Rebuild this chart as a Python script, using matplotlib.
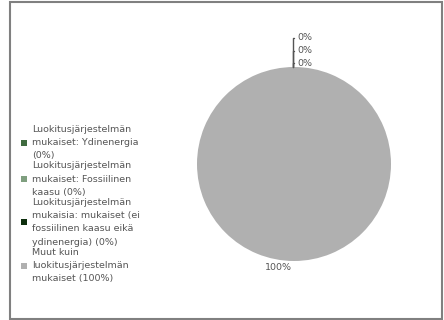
import numpy as np
import matplotlib.pyplot as plt
from matplotlib.patches import Rectangle, Patch

labels = [
    "Luokitusjärjestelmän\nmukaiset: Ydinenergia",
    "Luokitusjärjestelmän\nmukaiset: Fossiilinen\nkaasu",
    "Luokitusjärjestelmän\nmukaisia: mukaiset (ei\nfossiilinen kaasu eikä\nydinenergia)",
    "Muut kuin\nluokitusjärjestelmän\nmukaiset",
]
seps = ["\n", " ", " ", " "]
values = [0, 0, 0, 100]
colors = ["#3f6b3f", "#7f9f7f", "#0d2f0d", "#b0b0b0"]
text_color = "#555555"

fig = plt.figure(figsize=(4.44, 3.2), dpi=100)
ax = fig.add_axes([0, 0, 1, 1])
ax.axis("off")

# frame
fig.patches.append(Rectangle((9.5 / 444, 1.5 / 320), 432 / 444, 317 / 320,
                             transform=fig.transFigure, fill=False,
                             edgecolor="#808080", linewidth=1.5))

cx, cy, r = 294, 320 - 164, 97
wedges, _ = ax.pie(values, colors=colors, center=(cx, cy), radius=r,
                   startangle=90, counterclock=False,
                   wedgeprops=dict(linewidth=0))
ax.set_xlim(0, 444)
ax.set_ylim(0, 320)
ax.set_aspect("auto")

total = sum(values)
pcts = [100 * v / total for v in values]

# small slices at the top, stacked with leader line
top = (cx - 1, cy + r)
n_small = 0
for w, p in zip(wedges, pcts):
    if p > 0:
        continue
    dy = 4 + n_small * 12.5
    ax.annotate(f"{p:.0f}%", xy=top, xytext=(top[0] + 4, top[1] + dy),
                fontsize=6.8, color=text_color, ha="left", va="center",
                arrowprops=dict(arrowstyle="-", color="#555555", lw=1,
                                connectionstyle="angle,angleA=0,angleB=90,rad=0",
                                shrinkA=0, shrinkB=0))
    n_small += 1

# big slice label at the bottom
for w, p in zip(wedges, pcts):
    if p == 0:
        continue
    mid = np.deg2rad((w.theta1 + w.theta2) / 2)
    x = cx + r * np.cos(mid)
    y = cy + r * np.sin(mid)
    ax.text(x - 2, y - 6, f"{p:.0f}%", fontsize=6.8, color=text_color,
            ha="right", va="center")

handles = [Patch(facecolor=c, edgecolor="none") for c in colors]
leg_labels = [f"{l}{s}({p:.0f}%)" for l, s, p in zip(labels, seps, pcts)]
leg = fig.legend(handles, leg_labels, loc="center left",
                 bbox_to_anchor=(21 / 444, 1 - 204 / 320),
                 frameon=False, fontsize=6.8, handlelength=0.6,
                 handleheight=0.6, handletextpad=0.6, labelspacing=0.12,
                 borderaxespad=0, borderpad=0)
for t in leg.get_texts():
    t.set_color(text_color)
    t.set_linespacing(1.6)

fig.savefig("out.png", dpi=100)
